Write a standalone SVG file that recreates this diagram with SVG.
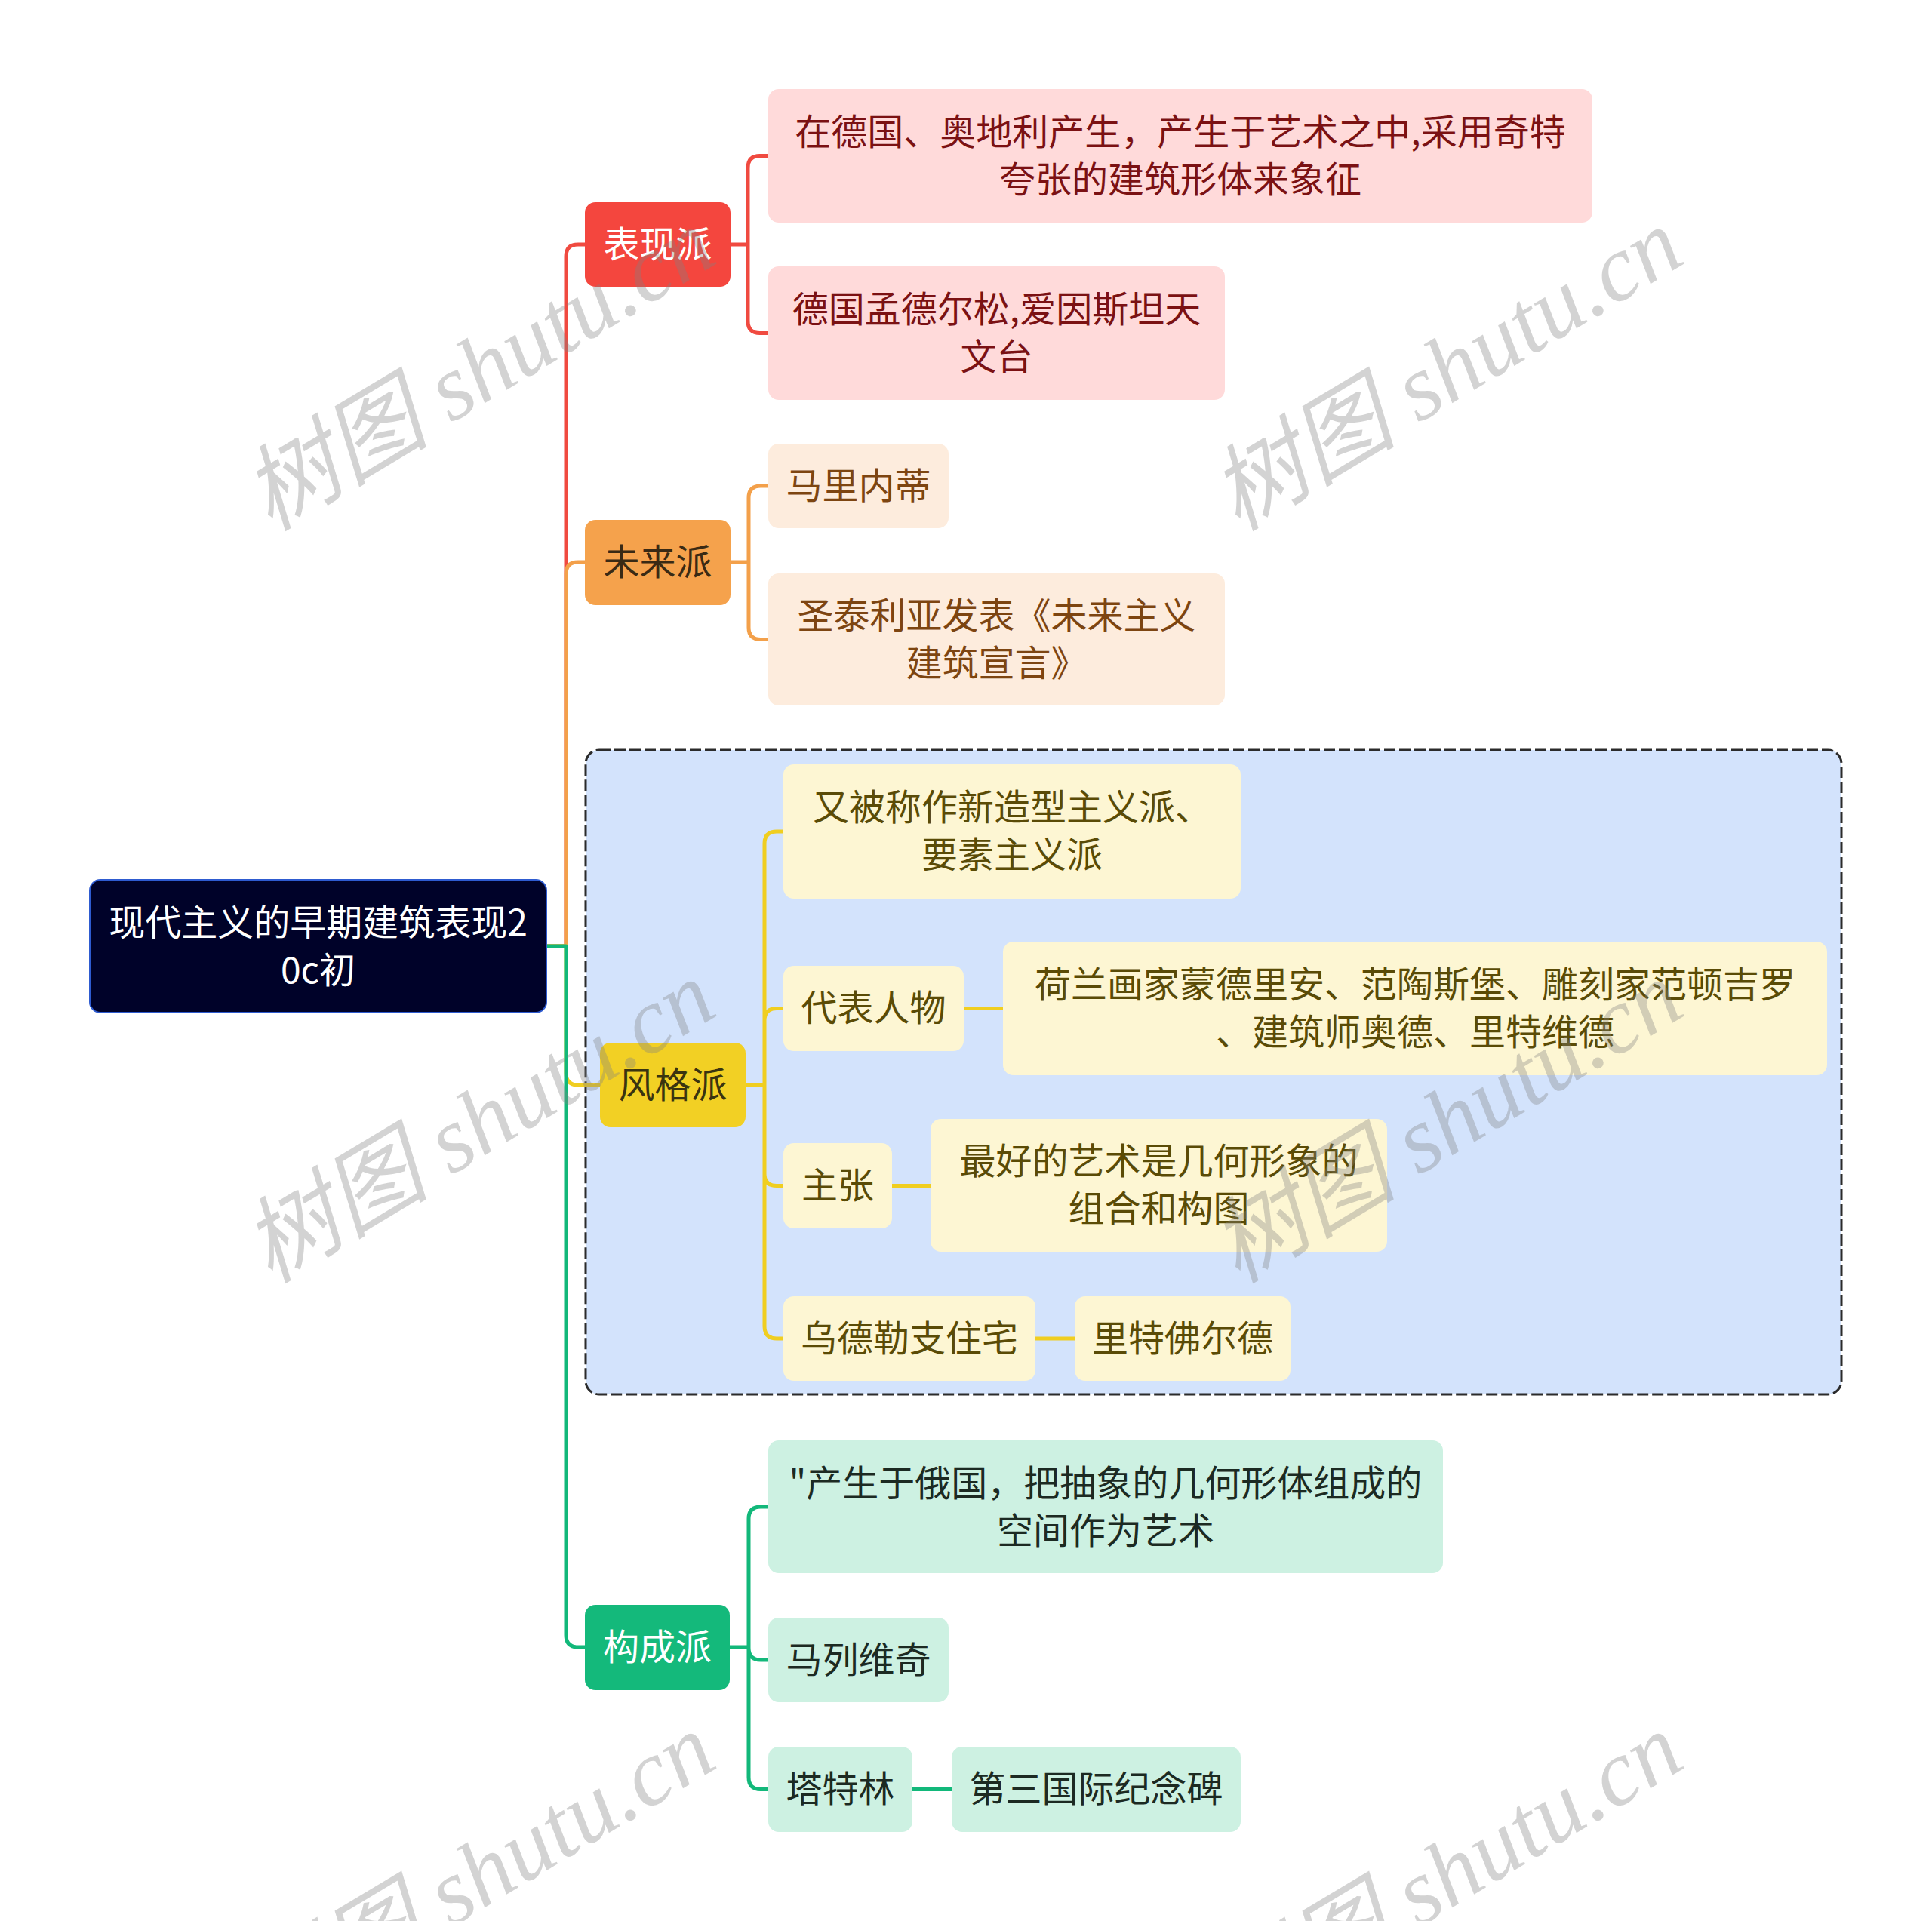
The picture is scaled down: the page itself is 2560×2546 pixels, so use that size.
<svg xmlns="http://www.w3.org/2000/svg" width="2560" height="2546" viewBox="0 0 2560 2546">
<style>
.t{font-family:"Noto Sans CJK SC","Noto Sans",sans-serif;font-size:48px;text-anchor:middle}
.c{fill:none;stroke-width:5;stroke-linecap:round;stroke-linejoin:round}
.red{stroke:#F04A40}.org{stroke:#F3A04A}.yel{stroke:#F0CE20}.grn{stroke:#12B87A}
.wm{font-family:"Liberation Serif","Noto Sans CJK SC",serif;font-style:italic;font-size:124px;fill:#808080;fill-opacity:0.35}
.n1r{fill:#F4463E}.n2r{fill:#FFDADA}.tr{fill:#7B1113}
.n1o{fill:#F5A24C}.n2o{fill:#FDECDD}.to{fill:#7D4511}
.n1y{fill:#F2D024}.n2y{fill:#FDF6D3}.ty{fill:#5A4B06}
.n1g{fill:#14B97B}.n2g{fill:#CDF1E2}.tg{fill:#1C2A22}
</style>
<rect width="2560" height="2546" fill="#ffffff"/>
<g id="boundary">
<rect x="776" y="994" width="1664" height="854" rx="18" fill="#D3E3FC" stroke="#2b2b2b" stroke-width="3" stroke-dasharray="15 5"/>
</g>
<g id="connectors">
<path class="c red" d="M724,1254 H750 V340 Q750,324 766,324 H775"/>
<path class="c org" d="M724,1254 H750 V761 Q750,745 766,745 H775"/>
<path class="c yel" d="M724,1254 H750 V1422 Q750,1438 766,1438 H795"/>
<path class="c grn" d="M724,1254 H750 V2167 Q750,2183 766,2183 H775"/>
<path class="c red" d="M968,324 H991 M991,324 V222.5 Q991,206.5 1007,206.5 H1018 M991,324 V425.5 Q991,441.5 1007,441.5 H1018"/>
<path class="c org" d="M968,745 H992 M992,745 V660 Q992,644 1008,644 H1018 M992,745 V831.5 Q992,847.5 1008,847.5 H1018"/>
<path class="c yel" d="M988,1438 H1013 M1013,1438 V1118 Q1013,1102 1029,1102 H1038 M1013,1438 V1352.5 Q1013,1336.5 1029,1336.5 H1038 M1013,1438 V1555.5 Q1013,1571.5 1029,1571.5 H1038 M1013,1438 V1758 Q1013,1774 1029,1774 H1038"/>
<path class="c grn" d="M967,2183 H992 M992,2183 V2013 Q992,1997 1008,1997 H1018 M992,2183 V2184 Q992,2200 1008,2200 H1018 M992,2183 V2355.5 Q992,2371.5 1008,2371.5 H1018"/>
<path class="c yel" d="M1277,1336.5 H1329 M1182,1571.5 H1233 M1372,1774 H1424"/>
<path class="c grn" d="M1209,2371.5 H1261"/>
</g>
<g id="root">
<rect x="119" y="1166" width="605" height="176" rx="14" fill="#000229" stroke="#2E5BD0" stroke-width="2"/>
<text class="t" x="421.5" y="1240" fill="#ffffff">现代主义的早期建筑表现2</text>
<text class="t" x="421.5" y="1303" fill="#ffffff">0c初</text>
</g>
<g id="n-biaoxian">
<rect class="n1r" x="775" y="268" width="193" height="112" rx="14"/>
<text class="t" x="871.5" y="341" fill="#ffffff">表现派</text>
</g>
<g id="n-a">
<rect class="n2r" x="1018" y="118" width="1092" height="177" rx="14"/>
<text class="t tr" x="1564" y="192">在德国、奥地利产生，产生于艺术之中,采用奇特</text>
<text class="t tr" x="1564" y="255">夸张的建筑形体来象征</text>
</g>
<g id="n-b">
<rect class="n2r" x="1018" y="353" width="605" height="177" rx="14"/>
<text class="t tr" x="1320.5" y="427">德国孟德尔松,爱因斯坦天</text>
<text class="t tr" x="1320.5" y="490">文台</text>
</g>
<g id="n-weilai">
<rect class="n1o" x="775" y="689" width="193" height="113" rx="14"/>
<text class="t" x="871.5" y="762" fill="#3A2A14">未来派</text>
</g>
<g id="n-c">
<rect class="n2o" x="1018" y="588" width="239" height="112" rx="14"/>
<text class="t to" x="1137.5" y="661">马里内蒂</text>
</g>
<g id="n-d">
<rect class="n2o" x="1018" y="760" width="605" height="175" rx="14"/>
<text class="t to" x="1320.5" y="833">圣泰利亚发表《未来主义</text>
<text class="t to" x="1320.5" y="896">建筑宣言》</text>
</g>
<g id="n-fengge">
<rect class="n1y" x="795" y="1382" width="193" height="112" rx="14"/>
<text class="t" x="891.5" y="1455" fill="#3A3410">风格派</text>
</g>
<g id="n-e">
<rect class="n2y" x="1038" y="1013" width="606" height="178" rx="14"/>
<text class="t ty" x="1341" y="1087">又被称作新造型主义派、</text>
<text class="t ty" x="1341" y="1150">要素主义派</text>
</g>
<g id="n-f">
<rect class="n2y" x="1038" y="1280" width="239" height="113" rx="14"/>
<text class="t ty" x="1157.5" y="1353">代表人物</text>
</g>
<g id="n-g">
<rect class="n2y" x="1329" y="1248" width="1092" height="177" rx="14"/>
<text class="t ty" x="1875" y="1322">荷兰画家蒙德里安、范陶斯堡、雕刻家范顿吉罗</text>
<text class="t ty" x="1875" y="1385">、建筑师奥德、里特维德</text>
</g>
<g id="n-h">
<rect class="n2y" x="1038" y="1515" width="144" height="113" rx="14"/>
<text class="t ty" x="1110" y="1588">主张</text>
</g>
<g id="n-i">
<rect class="n2y" x="1233" y="1483" width="605" height="176" rx="14"/>
<text class="t ty" x="1535.5" y="1556">最好的艺术是几何形象的</text>
<text class="t ty" x="1535.5" y="1619">组合和构图</text>
</g>
<g id="n-j">
<rect class="n2y" x="1038" y="1718" width="334" height="112" rx="14"/>
<text class="t ty" x="1205" y="1791">乌德勒支住宅</text>
</g>
<g id="n-k">
<rect class="n2y" x="1424" y="1718" width="286" height="112" rx="14"/>
<text class="t ty" x="1567" y="1791">里特佛尔德</text>
</g>
<g id="n-goucheng">
<rect class="n1g" x="775" y="2127" width="192" height="113" rx="14"/>
<text class="t" x="871" y="2200" fill="#ffffff">构成派</text>
</g>
<g id="n-l">
<rect class="n2g" x="1018" y="1909" width="894" height="176" rx="14"/>
<text class="t tg" x="1465" y="1983">"产生于俄国，把抽象的几何形体组成的</text>
<text class="t tg" x="1465" y="2046">空间作为艺术</text>
</g>
<g id="n-m">
<rect class="n2g" x="1018" y="2144" width="239" height="112" rx="14"/>
<text class="t tg" x="1137.5" y="2217">马列维奇</text>
</g>
<g id="n-n">
<rect class="n2g" x="1018" y="2315" width="191" height="113" rx="14"/>
<text class="t tg" x="1113.5" y="2388">塔特林</text>
</g>
<g id="n-o">
<rect class="n2g" x="1261" y="2315" width="383" height="113" rx="14"/>
<text class="t tg" x="1452.5" y="2388">第三国际纪念碑</text>
</g>
<g id="watermarks">
<text class="wm" transform="translate(358,705) rotate(-31)">树图 shutu.cn</text>
<text class="wm" transform="translate(1640,705) rotate(-31)">树图 shutu.cn</text>
<text class="wm" transform="translate(358,1702) rotate(-31)">树图 shutu.cn</text>
<text class="wm" transform="translate(1640,1702) rotate(-31)">树图 shutu.cn</text>
<text class="wm" transform="translate(358,2699) rotate(-31)">树图 shutu.cn</text>
<text class="wm" transform="translate(1640,2699) rotate(-31)">树图 shutu.cn</text>
</g>
</svg>
